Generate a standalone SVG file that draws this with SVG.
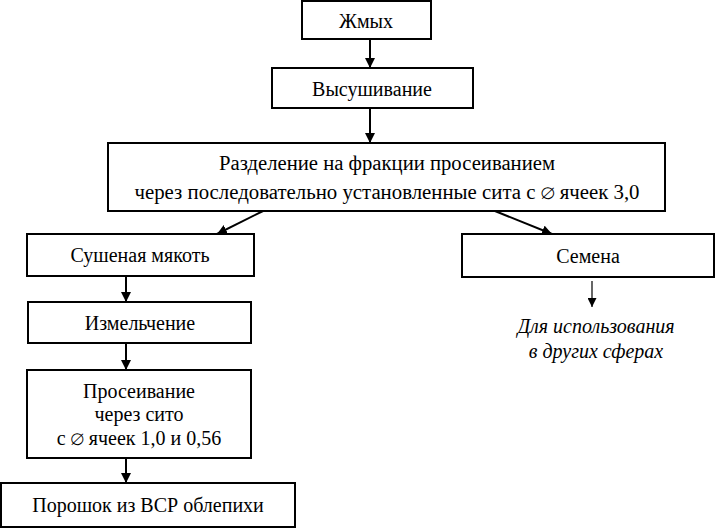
<svg xmlns="http://www.w3.org/2000/svg" width="715" height="528" viewBox="0 0 715 528">
<defs>
<marker id="ah" viewBox="0 0 10 10" refX="10" refY="5" markerWidth="10" markerHeight="10" markerUnits="userSpaceOnUse" orient="auto">
<path d="M0,0 L10,5 L0,10 Z" fill="#000"/>
</marker>
<marker id="ahs" viewBox="0 0 10 10" refX="10" refY="5" markerWidth="12" markerHeight="9" markerUnits="userSpaceOnUse" orient="auto">
<path d="M0,0 L10,5 L0,10 Z" fill="#000"/>
</marker>
<style>
rect.box { fill: #fff; stroke: #000; stroke-width: 2; }
text { font-family: "Liberation Serif", Tinos, "Times New Roman", Times, "Noto Serif", "DejaVu Serif", FreeSerif, serif; font-size: 20px; fill: #000; text-anchor: middle; }
text.it { font-style: italic; }
.conn line { stroke: #000; stroke-width: 2; marker-end: url(#ah); }
.conn line.thin { stroke-width: 1.2; marker-end: url(#ahs); }
</style>
</defs>
<rect width="715" height="528" fill="#fff"/>
<g id="n-zhmykh"><rect class="box" x="302" y="1" width="129" height="38"/><text x="366" y="28">Жмых</text></g>
<g id="n-vysush"><rect class="box" x="272" y="68" width="201" height="40"/><text x="372" y="96">Высушивание</text></g>
<g id="n-razdel"><rect class="box" x="108" y="143" width="557" height="68"/><text x="387" y="170" textLength="336" lengthAdjust="spacingAndGlyphs">Разделение на фракции просеиванием</text><text x="387" y="199" textLength="505" lengthAdjust="spacingAndGlyphs">через последовательно установленные сита с ∅ ячеек 3,0</text></g>
<g id="n-mjakot"><rect class="box" x="27" y="234" width="227" height="42"/><text x="140" y="262">Сушеная мякоть</text></g>
<g id="n-semena"><rect class="box" x="462" y="234" width="252" height="43"/><text x="588" y="263">Семена</text></g>
<g id="n-izmel"><rect class="box" x="28" y="302" width="223" height="41"/><text x="140" y="330">Измельчение</text></g>
<g id="n-prosei"><rect class="box" x="27" y="370" width="224" height="88"/><text x="139" y="398">Просеивание</text><text x="139" y="421">через сито</text><text x="139" y="445">с ∅ ячеек 1,0 и 0,56</text></g>
<g id="n-poroshok"><rect class="box" x="1" y="483" width="294" height="44"/><text x="148" y="512">Порошок из ВСР облепихи</text></g>
<g id="n-drugie"><text class="it" x="596" y="333">Для использования</text><text class="it" x="596" y="358">в других сферах</text></g>
<g class="conn" id="connectors">
<line x1="370" y1="39" x2="370" y2="68"/>
<line x1="370" y1="108" x2="370" y2="143"/>
<line x1="263" y1="211" x2="217" y2="234"/>
<line x1="495" y1="211" x2="552" y2="234"/>
<line x1="126" y1="276" x2="126" y2="302"/>
<line x1="126" y1="343" x2="126" y2="370"/>
<line x1="126" y1="458" x2="126" y2="483"/>
<line class="thin" x1="592" y1="281" x2="592" y2="307"/>
</g>
</svg>
